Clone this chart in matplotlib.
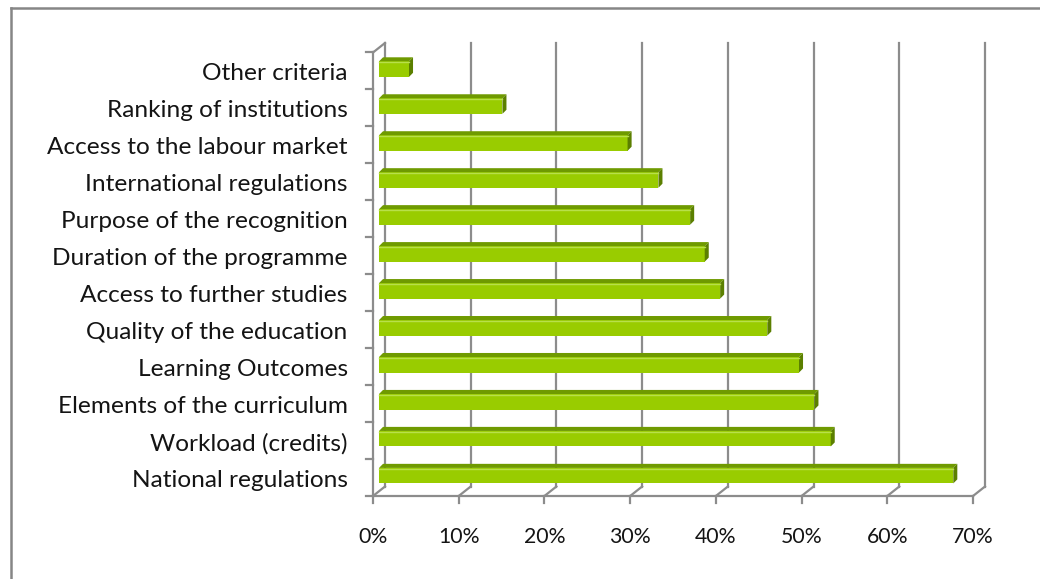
import numpy as np
import matplotlib.pyplot as plt
from matplotlib.lines import Line2D
from matplotlib.patches import Polygon

plt.rcParams['font.family'] = ['Lato', 'DejaVu Sans']

# data (bottom to top)
categories = [
    "National regulations",
    "Workload (credits)",
    "Elements of the curriculum",
    "Learning Outcomes",
    "Quality of the education",
    "Access to further studies",
    "Duration of the programme",
    "Purpose of the recognition",
    "International regulations",
    "Access to the labour market",
    "Ranking of institutions",
    "Other criteria",
]
values = [67.0, 52.7, 50.8, 49.0, 45.3, 39.8, 38.0, 36.3, 32.6, 29.0, 14.4, 3.5]
xticks = [0, 10, 20, 30, 40, 50, 60, 70]
xticklabels = ["0%", "10%", "20%", "30%", "40%", "50%", "60%", "70%"]

# pseudo-3d geometry (data units)
DX, DY = 1.4, 0.257          # back wall offset
BX, BY = 0.7, 0.05           # bar plane offset
BAR_H = 0.42
TOP_DX, TOP_DY = 0.47, 0.11  # bar top/side depth

GRID = '#8c8c8c'
FRONT = '#99cc00'
TOP = '#6f9a00'
SIDE = '#5b7f00'

fig = plt.figure(figsize=(10.4, 5.79), dpi=100)
ax = fig.add_axes([373 / 1040, (579 - 496) / 579, 612 / 1040, 453 / 579])
ax.set_xlim(0, 70 + DX)
ax.set_ylim(0, len(categories) + DY)
ax.axis('off')

n = len(categories)

# back wall gridlines
for v in xticks:
    ax.plot([v + DX, v + DX], [DY, n + DY], color=GRID, lw=1.6, clip_on=False)
    # floor diagonals
    ax.plot([v, v + DX], [0, DY], color=GRID, lw=1.6, clip_on=False)
    # tick marks below front axis
    ax.plot([v, v], [0, -0.2], color=GRID, lw=1.6, clip_on=False)

# front floor line and left wall
ax.plot([0, 70], [0, 0], color=GRID, lw=1.6, clip_on=False)
ax.plot([0, 0], [0, n], color=GRID, lw=1.6, clip_on=False)
ax.plot([0, DX], [n, n + DY], color=GRID, lw=1.6, clip_on=False)
for k in range(n + 1):
    ax.plot([-0.8, 0], [k, k], color=GRID, lw=1.6, clip_on=False)

# bars
ys = np.arange(n) + 0.5 + BY
ax.barh(ys, values, height=BAR_H, left=BX, color=FRONT, edgecolor='none', zorder=3)
for y, v in zip(ys, values):
    x0, x1 = BX, BX + v
    yt = y + BAR_H / 2
    yb = y - BAR_H / 2
    ax.add_patch(Polygon([(x0, yt), (x1, yt), (x1 + TOP_DX, yt + TOP_DY), (x0 + TOP_DX, yt + TOP_DY)],
                         closed=True, facecolor=TOP, edgecolor='none', zorder=3))
    ax.add_patch(Polygon([(x1, yb), (x1 + TOP_DX, yb + TOP_DY), (x1 + TOP_DX, yt + TOP_DY), (x1, yt)],
                         closed=True, facecolor=SIDE, edgecolor='none', zorder=3))
    # light highlight along the top edge of the front face
    ax.plot([x0, x1], [yt - 0.03, yt - 0.03], color='#b8e04a', lw=1, zorder=4)

# labels
for k, name in enumerate(categories):
    ax.text(-2.95, k + 0.42, name, ha='right', va='center', fontsize=17.6, color='#141414')
for v, lab in zip(xticks, xticklabels):
    ax.text(v, -1.1, lab, ha='center', va='center', fontsize=15.3, color='#141414')

# outer chart frame (partly outside the image)
fig.add_artist(Line2D([11 / 1040, 11 / 1040], [0, 1 - 8 / 579], color='#868686', lw=1.8,
                      transform=fig.transFigure))
fig.add_artist(Line2D([11 / 1040, 1], [1 - 8 / 579, 1 - 8 / 579], color='#868686', lw=1.8,
                      transform=fig.transFigure))

fig.savefig('out.png', dpi=100)
